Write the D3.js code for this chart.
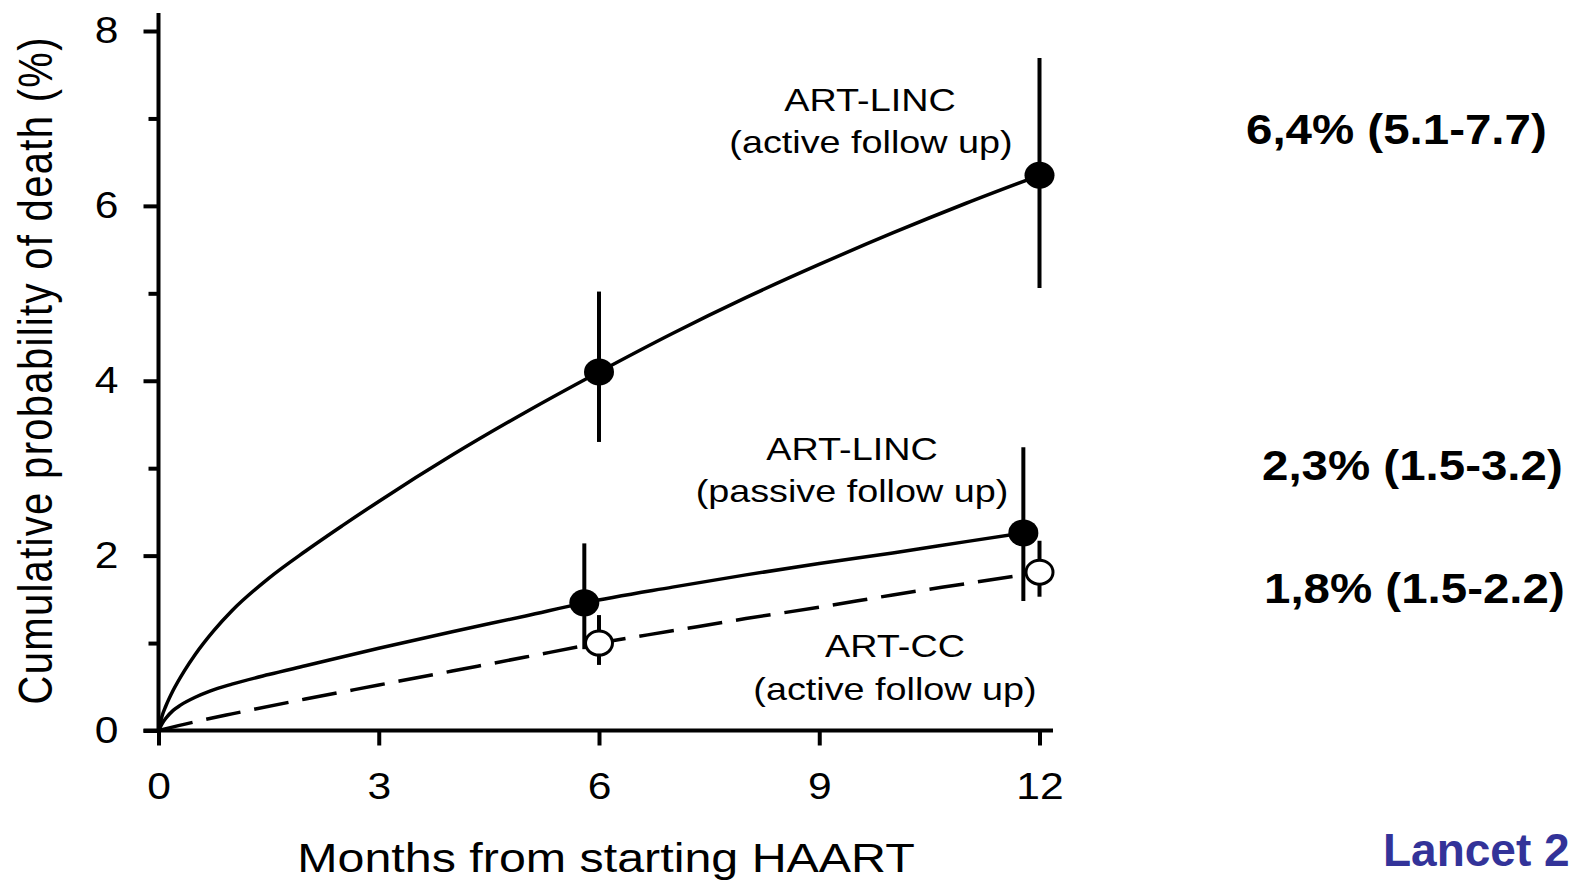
<!DOCTYPE html>
<meta charset="utf-8">
<script src="https://cdn.jsdelivr.net/npm/d3@7"></script>
<style>

body {
  margin: 0;
  background: #fff;
}

text {
  font-family: "Liberation Sans", Arial, sans-serif;
  fill: #000;
}

path.curve {
  fill: none;
  stroke: #000;
  stroke-width: 3.5px;
}

line.err {
  stroke: #000;
  stroke-width: 4px;
}

.axis line, .axis-line {
  stroke: #000;
  stroke-width: 4px;
}

</style>
<body>
<script>

// curves (months, cumulative % dead)
var activeMonths  = [0, 0.05, 0.1, 0.2, 0.35, 0.5, 0.75, 1, 1.5, 2, 2.5, 3, 4, 5, 6, 7, 8, 9, 10, 11, 12];
var activeValues  = [0, 0.17, 0.28, 0.46, 0.68, 0.87, 1.14, 1.37, 1.74, 2.05, 2.34, 2.62, 3.15, 3.64, 4.1, 4.54, 4.95, 5.33, 5.69, 6.03, 6.35];

var passiveMonths = [0, 0.05, 0.1, 0.2, 0.3, 0.5, 0.7, 1, 1.5, 2, 3, 4, 5, 5.8, 7, 8, 9, 10, 11, 11.78];
var passiveValues = [0, 0.08, 0.14, 0.23, 0.29, 0.38, 0.45, 0.53, 0.64, 0.74, 0.94, 1.13, 1.31, 1.46, 1.64, 1.78, 1.91, 2.03, 2.16, 2.26];

var ccMonths      = [0, 0.5, 1, 2, 3, 4, 5, 6, 7, 8, 9, 10, 11, 12];
var ccValues      = [0, 0.1, 0.19, 0.36, 0.52, 0.68, 0.84, 1.0, 1.14, 1.28, 1.41, 1.55, 1.68, 1.81];

// estimates with confidence intervals at 6 and 12 months
var activePoints  = [{m: 6, v: 4.1, lo: 3.3, hi: 5.02}, {m: 12, v: 6.35, lo: 5.06, hi: 7.69}];
var passivePoints = [{m: 5.8, v: 1.46, lo: 0.93, hi: 2.14}, {m: 11.78, v: 2.26, lo: 1.48, hi: 3.24}];
var ccPoints      = [{m: 6, v: 1.0, lo: 0.75, hi: 1.32}, {m: 12, v: 1.81, lo: 1.53, hi: 2.17}];

var xTicks = [0, 3, 6, 9, 12];
var yTicks = [0, 2, 4, 6, 8];
var yMinorTicks = [1, 3, 5, 7];

var summaryLabels = ["6,4% (5.1-7.7)", "2,3% (1.5-3.2)", "1,8% (1.5-2.2)"];

var width = 1574,
    height = 882;

var stretchK = 1.18;

var svg = d3.select("body").append("svg")
    .attr("width", width)
    .attr("height", height);

var x = d3.scaleLinear().domain([0, 12]).range([158.5, 1039.5]);
var y = d3.scaleLinear().domain([0, 8]).range([730.5, 31]);

// widen the glyphs like the original slide
function stretch(sel, k) {
  sel.each(function() {
    var w = this.getComputedTextLength();
    d3.select(this)
      .attr("textLength", w * k)
      .attr("lengthAdjust", "spacingAndGlyphs");
  });
}

function zip(ms, vs) {
  return ms.map(function(m, i) { return {m: m, v: vs[i]}; });
}

// axes
var yAxis = svg.append("g")
    .attr("class", "axis")
    .attr("transform", "translate(" + x(0) + ",0)")
    .call(d3.axisLeft(y).tickValues(yTicks).tickSize(15).tickPadding(25).tickSizeOuter(0));

svg.append("g")
    .attr("class", "axis")
    .attr("transform", "translate(" + x(0) + ",0)")
    .call(d3.axisLeft(y).tickValues(yMinorTicks).tickSize(10).tickFormat("").tickSizeOuter(0))
    .select(".domain").remove();

var xAxis = svg.append("g")
    .attr("class", "axis")
    .attr("transform", "translate(0," + y(0) + ")")
    .call(d3.axisBottom(x).tickValues(xTicks).tickSize(15).tickPadding(27).tickSizeOuter(0));

yAxis.select(".domain").remove();
xAxis.select(".domain").remove();

svg.append("line")
    .attr("class", "axis-line")
    .attr("x1", x(0)).attr("x2", x(0))
    .attr("y1", 13).attr("y2", y(0));

svg.append("line")
    .attr("class", "axis-line")
    .attr("x1", x(0) - 15).attr("x2", 1053)
    .attr("y1", y(0)).attr("y2", y(0));

svg.selectAll(".axis text")
    .attr("font-size", 37)
    .attr("font-family", "Liberation Sans, Arial, sans-serif")
    .call(stretch, 1.15);

// axis titles
svg.append("text")
    .attr("text-anchor", "middle")
    .attr("font-size", 41)
    .attr("x", 606)
    .attr("y", 872)
    .text("Months from starting HAART")
    .call(stretch, stretchK);

svg.append("text")
    .attr("text-anchor", "middle")
    .attr("font-size", 40)
    .attr("transform", "translate(52,371) scale(" + stretchK + ",1) rotate(-90)")
    .attr("textLength", 667)
    .attr("lengthAdjust", "spacing")
    .text("Cumulative probability of death (%)");

// curves
var line = d3.line()
    .x(function(d) { return x(d.m); })
    .y(function(d) { return y(d.v); })
    .curve(d3.curveMonotoneX);

svg.append("path")
    .attr("class", "curve")
    .attr("d", line(zip(activeMonths, activeValues)));

svg.append("path")
    .attr("class", "curve")
    .attr("d", line(zip(passiveMonths, passiveValues)));

svg.append("path")
    .attr("class", "curve")
    .style("stroke-dasharray", "35,14")
    .attr("d", line(zip(ccMonths, ccValues)));

// error bars and markers
var allPoints = activePoints.map(function(d) { return Object.assign({open: false}, d); })
  .concat(passivePoints.map(function(d) { return Object.assign({open: false}, d); }))
  .concat(ccPoints.map(function(d) { return Object.assign({open: true}, d); }));

svg.append("g").selectAll("line")
    .data(allPoints)
  .enter().append("line")
    .attr("class", "err")
    .attr("x1", function(d) { return x(d.m); })
    .attr("x2", function(d) { return x(d.m); })
    .attr("y1", function(d) { return y(d.lo); })
    .attr("y2", function(d) { return y(d.hi); });

svg.append("g").selectAll("ellipse")
    .data(allPoints)
  .enter().append("ellipse")
    .attr("cx", function(d) { return x(d.m); })
    .attr("cy", function(d) { return y(d.v); })
    .attr("rx", function(d) { return d.open ? 13.5 : 15; })
    .attr("ry", function(d) { return d.open ? 12 : 13.5; })
    .style("fill", function(d) { return d.open ? "#fff" : "#000"; })
    .style("stroke", "#000")
    .style("stroke-width", function(d) { return d.open ? 3 : 0; });

// curve labels
var curveLabels = [
  {cx: 870, y: 111, t: "ART-LINC"},
  {cx: 871, y: 153, t: "(active follow up)"},
  {cx: 852, y: 460, t: "ART-LINC"},
  {cx: 852, y: 502, t: "(passive follow up)"},
  {cx: 895, y: 657, t: "ART-CC"},
  {cx: 895, y: 700, t: "(active follow up)"}
];

svg.append("g").selectAll("text")
    .data(curveLabels)
  .enter().append("text")
    .attr("text-anchor", "middle")
    .attr("font-size", 32)
    .attr("x", function(d) { return d.cx; })
    .attr("y", function(d) { return d.y; })
    .text(function(d) { return d.t; })
    .call(stretch, stretchK);

// 12 month estimates on the right
var summaryPos = [[1246, 144], [1262, 480], [1264, 603]];

svg.append("g").selectAll("text")
    .data(summaryLabels)
  .enter().append("text")
    .attr("font-size", 42)
    .attr("font-weight", "bold")
    .attr("x", function(d, i) { return summaryPos[i][0]; })
    .attr("y", function(d, i) { return summaryPos[i][1]; })
    .text(function(d) { return d; })
    .call(stretch, 1.13);

svg.append("text")
    .attr("font-size", 46)
    .attr("font-weight", "bold")
    .style("fill", "#333399")
    .attr("x", 1383)
    .attr("y", 866)
    .text("Lancet 2");

</script>
</body>
</html>
